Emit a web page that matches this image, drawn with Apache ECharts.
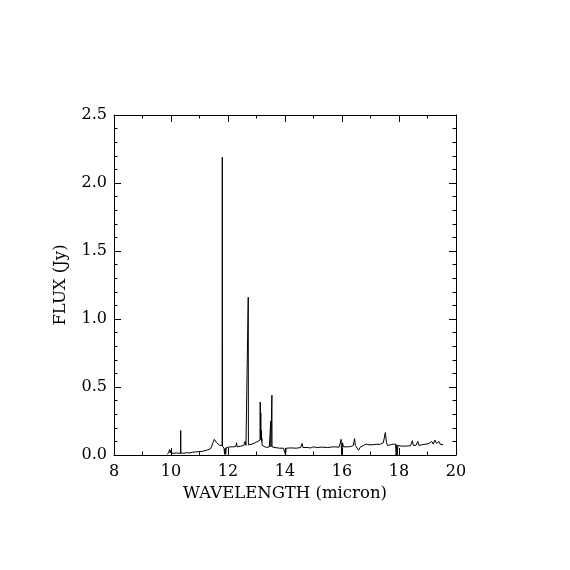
<!DOCTYPE html>
<html>
<head>
<meta charset="utf-8">
<script src="https://cdn.jsdelivr.net/npm/echarts@6/dist/echarts.min.js"></script>
<style>
  html, body { margin: 0; padding: 0; background: #fff; }
  #chart { width: 570px; height: 570px; }
</style>
</head>
<body>
<div id="chart"></div>
<script>
// wavelength (micron) and flux (Jy)
var wavelength = [
  9.87, 9.92, 9.95, 9.97, 10.00, 10.03, 10.10, 10.20, 10.334, 10.34, 10.346,
  10.45, 10.55, 10.65, 10.75, 10.85, 10.95, 11.05, 11.15, 11.25, 11.30, 11.38,
  11.42, 11.48, 11.52, 11.56, 11.60, 11.65, 11.70, 11.76, 11.794, 11.80, 11.806,
  11.86, 11.88, 11.90, 11.92, 11.94, 12.00, 12.10, 12.20, 12.28, 12.30, 12.32,
  12.45, 12.55, 12.60, 12.63, 12.68, 12.704, 12.71, 12.716, 12.85, 12.95, 13.05,
  13.124, 13.13, 13.14, 13.15, 13.16, 13.17, 13.18, 13.19, 13.20, 13.26, 13.35,
  13.45, 13.494, 13.50, 13.506, 13.534, 13.54, 13.546, 13.65, 13.80, 13.95,
  14.00, 14.02, 14.04, 14.20, 14.40, 14.55, 14.60, 14.63, 14.80, 14.90, 15.00,
  15.10, 15.30, 15.50, 15.70, 15.90, 15.95, 15.97, 15.99, 16.02, 16.05, 16.10,
  16.20, 16.30, 16.40, 16.44, 16.47, 16.52, 16.58, 16.60, 16.65, 16.75, 16.85,
  16.95, 17.05, 17.20, 17.35, 17.45, 17.52, 17.56, 17.60, 17.70, 17.80, 17.88,
  17.90, 17.92, 17.94, 17.96, 18.10, 18.25, 18.40, 18.47, 18.50, 18.60, 18.66,
  18.70, 18.80, 18.95, 19.05, 19.15, 19.20, 19.26, 19.32, 19.40, 19.44, 19.50,
  19.55
];
var flux = [
  0.005, 0.02, 0.04, 0.015, 0.035, 0.012, 0.012, 0.015, 0.012, 0.18, 0.015,
  0.012, 0.018, 0.015, 0.02, 0.022, 0.025, 0.025, 0.03, 0.035, 0.045, 0.045,
  0.06, 0.095, 0.115, 0.105, 0.09, 0.08, 0.072, 0.068, 0.07, 2.19, 0.065,
  0.05, 0.005, 0.05, 0.005, 0.055, 0.055, 0.06, 0.06, 0.065, 0.09, 0.06,
  0.065, 0.07, 0.10, 0.07, 0.08, 0.08, 1.16, 0.075, 0.08, 0.09, 0.10,
  0.11, 0.39, 0.12, 0.31, 0.11, 0.18, 0.10, 0.12, 0.07, 0.06, 0.055,
  0.06, 0.06, 0.25, 0.06, 0.06, 0.44, 0.06, 0.055, 0.05, 0.05,
  0.05, 0.0, 0.05, 0.052, 0.05, 0.055, 0.085, 0.055, 0.055, 0.052, 0.06,
  0.055, 0.058, 0.055, 0.06, 0.058, 0.06, 0.115, 0.002, 0.09, 0.06, 0.07,
  0.06, 0.062, 0.07, 0.12, 0.07, 0.06, 0.035, 0.025, 0.06, 0.07, 0.08,
  0.075, 0.075, 0.078, 0.08, 0.09, 0.165, 0.09, 0.07, 0.075, 0.08, 0.08,
  0.0, 0.075, 0.0, 0.07, 0.065, 0.066, 0.068, 0.105, 0.07, 0.072, 0.10,
  0.07, 0.075, 0.08, 0.085, 0.10, 0.08, 0.11, 0.085, 0.10, 0.08, 0.09,
  0.075
];

var xTicks = { min: 8, max: 20, interval: 2 };
var yTicks = { min: 0, max: 2.5, interval: 0.5 };

var points = wavelength.map(function (w, i) { return [w, flux[i]]; });

var font = 'DejaVu Serif';
var black = '#000';

function axisBase(opts) {
  return Object.assign({
    type: 'value',
    axisLine: { show: true, onZero: false, lineStyle: { color: black, width: 1 } },
    axisTick: { show: true, inside: true, length: 7, lineStyle: { color: black, width: 1 } },
    splitLine: { show: false },
    minorSplitLine: { show: false }
  }, opts);
}

var chart = echarts.init(document.getElementById('chart'));
chart.setOption({
  animation: false,
  backgroundColor: '#fff',
  grid: { left: 114, right: 114, top: 115, bottom: 115, containLabel: false },
  xAxis: [
    axisBase({
      position: 'bottom',
      min: xTicks.min, max: xTicks.max, interval: xTicks.interval,
      minorTick: { show: true, splitNumber: 2, length: 3.5, lineStyle: { color: black } },
      axisLabel: { color: black, fontFamily: font, fontSize: 16, margin: 9 },
      name: 'WAVELENGTH (micron)',
      nameLocation: 'middle',
      nameGap: 30,
      nameTextStyle: { color: black, fontFamily: font, fontSize: 16.5 }
    }),
    axisBase({
      position: 'top',
      min: xTicks.min, max: xTicks.max, interval: xTicks.interval,
      minorTick: { show: true, splitNumber: 2, length: 3.5, lineStyle: { color: black } },
      axisLabel: { show: false }
    })
  ],
  yAxis: [
    axisBase({
      position: 'left',
      min: yTicks.min, max: yTicks.max, interval: yTicks.interval,
      minorTick: { show: true, splitNumber: 5, length: 3.5, lineStyle: { color: black } },
      axisLabel: {
        color: black, fontFamily: font, fontSize: 16, margin: 7,
        formatter: function (v) { return v.toFixed(1); }
      },
      name: 'FLUX (Jy)',
      nameLocation: 'middle',
      nameGap: 45,
      nameTextStyle: { color: black, fontFamily: font, fontSize: 16.5 }
    }),
    axisBase({
      position: 'right',
      min: yTicks.min, max: yTicks.max, interval: yTicks.interval,
      minorTick: { show: true, splitNumber: 5, length: 3.5, lineStyle: { color: black } },
      axisLabel: { show: false }
    })
  ],
  series: [{
    type: 'line',
    data: points,
    xAxisIndex: 0,
    yAxisIndex: 0,
    showSymbol: false,
    symbol: 'none',
    lineStyle: { color: black, width: 1 },
    clip: true
  }]
});
</script>
</body>
</html>
